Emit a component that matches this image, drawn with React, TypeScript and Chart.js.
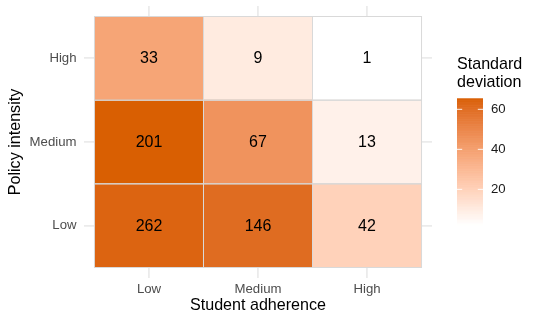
import React, { useEffect, useRef } from "react";
import { Chart, registerables } from "chart.js";

Chart.register(...registerables);

// Axis categories
const xCategories = ["Low", "Medium", "High"]; // Student adherence
const yCategories = ["Low", "Medium", "High"]; // Policy intensity

// Counts shown in each tile (per policy-intensity row, across student adherence)
const countsLow = [262, 146, 42];
const countsMedium = [201, 67, 13];
const countsHigh = [33, 9, 1];

// Standard deviation (fill colour) per tile
const sdLow = [63.5, 60.5, 20];
const sdMedium = [65.5, 45, 7.5];
const sdHigh = [38, 10, 2.2];

// Colour bar ticks
const legendTicks = [20, 40, 60];

const rows = [
  { counts: countsLow, sd: sdLow },
  { counts: countsMedium, sd: sdMedium },
  { counts: countsHigh, sd: sdHigh },
];

const allSd = [...sdLow, ...sdMedium, ...sdHigh];
const sdMin = Math.min(...allSd);
const sdMax = Math.max(...allSd);

// --- Lab interpolation between white and #D95F02 (like ggplot's gradient) ---
function srgbToLin(c: number) {
  c /= 255;
  return c <= 0.04045 ? c / 12.92 : Math.pow((c + 0.055) / 1.055, 2.4);
}
function linToSrgb(c: number) {
  const v = c <= 0.0031308 ? 12.92 * c : 1.055 * Math.pow(c, 1 / 2.4) - 0.055;
  return Math.max(0, Math.min(255, Math.round(v * 255)));
}
const Xn = 0.95047, Yn = 1.0, Zn = 1.08883;
function f(t: number) {
  return t > 216 / 24389 ? Math.cbrt(t) : (24389 / 27 * t + 16) / 116;
}
function finv(t: number) {
  const t3 = t * t * t;
  return t3 > 216 / 24389 ? t3 : (116 * t - 16) / (24389 / 27);
}
function rgbToLab(r: number, g: number, b: number) {
  const R = srgbToLin(r), G = srgbToLin(g), B = srgbToLin(b);
  const X = 0.4124 * R + 0.3576 * G + 0.1805 * B;
  const Y = 0.2126 * R + 0.7152 * G + 0.0722 * B;
  const Z = 0.0193 * R + 0.1192 * G + 0.9505 * B;
  const fx = f(X / Xn), fy = f(Y / Yn), fz = f(Z / Zn);
  return [116 * fy - 16, 500 * (fx - fy), 200 * (fy - fz)];
}
function labToRgb(L: number, a: number, b: number) {
  const fy = (L + 16) / 116;
  const fx = fy + a / 500;
  const fz = fy - b / 200;
  const X = Xn * finv(fx), Y = Yn * finv(fy), Z = Zn * finv(fz);
  const R = 3.2406 * X - 1.5372 * Y - 0.4986 * Z;
  const G = -0.9689 * X + 1.8758 * Y + 0.0415 * Z;
  const B = 0.0557 * X - 0.204 * Y + 1.057 * Z;
  return `rgb(${linToSrgb(R)},${linToSrgb(G)},${linToSrgb(B)})`;
}
const lowLab = rgbToLab(255, 255, 255);
const highLab = rgbToLab(0xd9, 0x5f, 0x02);
function colorFor(v: number) {
  const t = Math.max(0, Math.min(1, (v - sdMin) / (sdMax - sdMin)));
  return labToRgb(
    lowLab[0] + (highLab[0] - lowLab[0]) * t,
    lowLab[1] + (highLab[1] - lowLab[1]) * t,
    lowLab[2] + (highLab[2] - lowLab[2]) * t
  );
}

const FONT = "'Liberation Sans', Arial, Helvetica, sans-serif";

const tilePlugin = {
  id: "tileLabels",
  afterDatasetsDraw(chart: any) {
    const { ctx, scales } = chart;
    const xs = scales.x, ys = scales.y;
    ctx.save();
    // tile borders
    ctx.strokeStyle = "#d9d9d9";
    ctx.lineWidth = 1;
    rows.forEach((row, r) => {
      row.counts.forEach((_, c) => {
        const x0 = xs.getPixelForValue(c - 0.5);
        const x1 = xs.getPixelForValue(c + 0.5);
        const y0 = ys.getPixelForValue(r + 0.5);
        const y1 = ys.getPixelForValue(r - 0.5);
        ctx.strokeRect(x0, y0, x1 - x0, y1 - y0);
      });
    });
    // labels
    ctx.fillStyle = "#000000";
    ctx.font = `16px ${FONT}`;
    ctx.textAlign = "center";
    ctx.textBaseline = "middle";
    rows.forEach((row, r) => {
      row.counts.forEach((v, c) => {
        ctx.fillText(String(v), xs.getPixelForValue(c), ys.getPixelForValue(r) + 0.5);
      });
    });
    ctx.restore();
  },
  afterDraw(chart: any) {
    const { ctx } = chart;
    const left = 457, right = 483, top = 98.3, bottom = 225;
    ctx.save();
    // title
    ctx.fillStyle = "#000000";
    ctx.font = `16.1px ${FONT}`;
    ctx.textAlign = "left";
    ctx.textBaseline = "middle";
    ctx.fillText("Standard", left, 65);
    ctx.fillText("deviation", left, 83);
    // gradient bar
    const n = 200;
    const h = (bottom - top) / n;
    for (let i = 0; i < n; i++) {
      const v = sdMax - (sdMax - sdMin) * ((i + 0.5) / n);
      ctx.fillStyle = colorFor(v);
      ctx.fillRect(left, top + i * h, right - left, h + 0.6);
    }
    // ticks + labels
    ctx.font = `13.2px ${FONT}`;
    legendTicks.forEach((t) => {
      const yy = bottom - ((t - sdMin) / (sdMax - sdMin)) * (bottom - top);
      ctx.strokeStyle = "rgba(255,255,255,0.9)";
      ctx.lineWidth = 1;
      ctx.beginPath();
      ctx.moveTo(left, yy);
      ctx.lineTo(left + 5.2, yy);
      ctx.moveTo(right - 5.2, yy);
      ctx.lineTo(right, yy);
      ctx.stroke();
      ctx.fillStyle = "#1a1a1a";
      ctx.fillText(String(t), 491, yy);
    });
    ctx.restore();
  },
};

export default function App() {
  const ref = useRef<HTMLCanvasElement | null>(null);
  useEffect(() => {
    if (!ref.current) return;
    const datasets = rows.map((row, r) => ({
      label: yCategories[r],
      data: row.sd.map((_, c) => ({ x: c, y: [r - 0.5, r + 0.5] })),
      backgroundColor: row.sd.map(colorFor),
      borderWidth: 0,
      barPercentage: 1,
      categoryPercentage: 1,
      grouped: false,
    }));
    const chart = new Chart(ref.current, {
      type: "bar",
      data: { datasets } as any,
      plugins: [tilePlugin],
      options: {
        animation: false,
        responsive: false,
        devicePixelRatio: 1,
        grouped: false,
        layout: { padding: { top: 6, right: 108, bottom: 0, left: 0 } },
        plugins: { legend: { display: false }, tooltip: { enabled: false } },
        scales: {
          x: {
            type: "linear",
            min: -0.596,
            max: 2.596,
            offset: false,
            afterFit: (s: any) => { s.height = 46; s.paddingLeft = 0; s.paddingRight = 0; },
            afterBuildTicks: (s: any) => { s.ticks = xCategories.map((_, i) => ({ value: i })); },
            grid: { color: "#ebebeb", lineWidth: 1.8, drawTicks: false, offset: false },
            border: { display: false },
            ticks: {
              padding: 3.1,
              autoSkip: false,
              maxRotation: 0,
              color: "#4d4d4d",
              font: { family: FONT, size: 13.2 },
              callback: (v: any) => xCategories[v as number] ?? "",
            },
            title: {
              display: true,
              text: "Student adherence",
              color: "#000000",
              font: { family: FONT, size: 16.1 },
              padding: { top: 0, bottom: 8.3 },
            },
          },
          y: {
            type: "linear",
            min: -0.6255,
            max: 2.6255,
            beginAtZero: false,
            afterFit: (s: any) => { s.width = 84; s.paddingTop = 0; s.paddingBottom = 0; },
            afterBuildTicks: (s: any) => { s.ticks = yCategories.map((_, i) => ({ value: i })); },
            grid: { color: "#ebebeb", lineWidth: 1.8, drawTicks: false },
            border: { display: false },
            ticks: {
              padding: 7.5,
              autoSkip: false,
              color: "#4d4d4d",
              font: { family: FONT, size: 13.2 },
              callback: (v: any) => yCategories[v as number] ?? "",
            },
            title: {
              display: true,
              text: "Policy intensity",
              color: "#000000",
              font: { family: FONT, size: 16.1 },
              padding: { top: 6.3, bottom: 0 },
            },
          },
        },
      } as any,
    });
    return () => chart.destroy();
  }, []);
  return (
    <div style={{ position: "fixed", left: 0, top: 0, width: 540, height: 324, background: "#ffffff" }}>
      <canvas ref={ref} width={540} height={324} style={{ display: "block", width: 540, height: 324 }} />
    </div>
  );
}
